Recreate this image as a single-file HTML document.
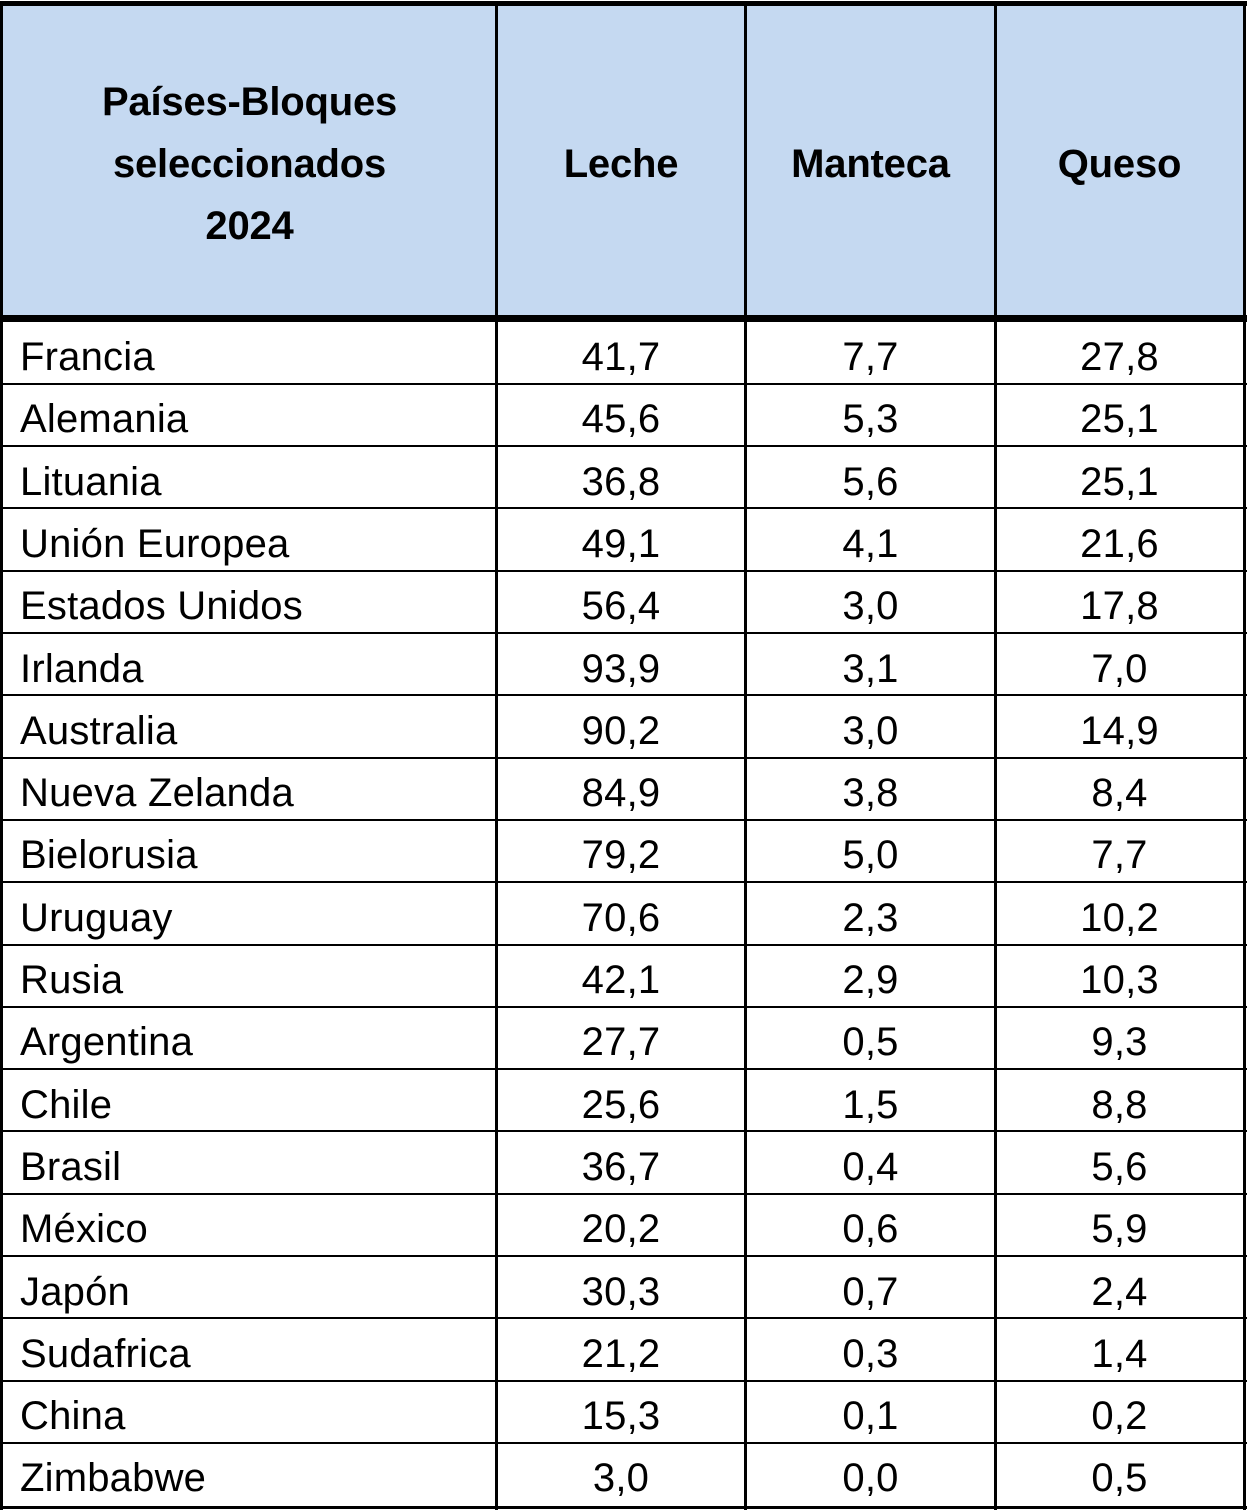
<!DOCTYPE html>
<html><head><meta charset="utf-8"><style>
body{margin:0;width:1247px;height:1509px;background:#fff;position:relative;overflow:hidden;font-family:"Liberation Sans",Carlito,sans-serif;}
.h{position:absolute;background:#000;}
.hdr{position:absolute;top:5px;height:311px;background:#C5D9F1;}
.t{position:absolute;font-size:40px;color:#000;line-height:62px;height:62px;white-space:nowrap;letter-spacing:0.2px}
.c{text-align:center}
.hd{position:absolute;font-weight:bold;font-size:40px;text-align:center;line-height:62px;letter-spacing:-0.2px}
</style></head><body>
<div class="hdr" style="left:3px;width:1241px"></div>
<div class="hd" style="left:3px;width:493px;top:71px">Países-Bloques<br>seleccionados<br>2024</div>
<div class="hd" style="left:497px;width:248px;top:133px">Leche</div>
<div class="hd" style="left:747px;width:247px;top:133px">Manteca</div>
<div class="hd" style="left:996px;width:247px;top:133px">Queso</div>
<div class="h" style="left:0;top:1px;width:1247px;height:5px"></div>
<div class="h" style="left:0;top:315px;width:1247px;height:7px"></div>
<div class="h" style="left:0;width:3px;height:1509px;top:1px"></div>
<div class="h" style="left:1243px;top:1px;width:3px;height:1509px"></div>
<div class="h" style="left:495px;top:1px;width:3px;height:1509px"></div>
<div class="h" style="left:744px;top:1px;width:3px;height:1509px"></div>
<div class="h" style="left:994px;top:1px;width:3px;height:1509px"></div>
<div id="rows"></div>
<script>
(function(){
var d=[["Francia","41,7","7,7","27,8"],["Alemania","45,6","5,3","25,1"],["Lituania","36,8","5,6","25,1"],["Unión Europea","49,1","4,1","21,6"],["Estados Unidos","56,4","3,0","17,8"],["Irlanda","93,9","3,1","7,0"],["Australia","90,2","3,0","14,9"],["Nueva Zelanda","84,9","3,8","8,4"],["Bielorusia","79,2","5,0","7,7"],["Uruguay","70,6","2,3","10,2"],["Rusia","42,1","2,9","10,3"],["Argentina","27,7","0,5","9,3"],["Chile","25,6","1,5","8,8"],["Brasil","36,7","0,4","5,6"],["México","20,2","0,6","5,9"],["Japón","30,3","0,7","2,4"],["Sudafrica","21,2","0,3","1,4"],["China","15,3","0,1","0,2"],["Zimbabwe","3,0","0,0","0,5"]];
var h="";
for(var i=0;i<d.length;i++){var y0=322+i*62.3;
if(i>0)h+='<div class="h" style="left:0;width:1247px;height:2px;top:'+(y0-1.5)+'px"></div>';
var ty=y0+4;
h+='<div class="t" style="left:20px;top:'+ty+'px">'+d[i][0]+'</div>';
h+='<div class="t c" style="left:497px;width:248px;top:'+ty+'px">'+d[i][1]+'</div>';
h+='<div class="t c" style="left:747px;width:247px;top:'+ty+'px">'+d[i][2]+'</div>';
h+='<div class="t c" style="left:996px;width:247px;top:'+ty+'px">'+d[i][3]+'</div>';}
h+='<div class="h" style="left:0;width:1247px;height:3px;top:1506px"></div>';
document.getElementById("rows").innerHTML=h;
})();
</script>
</body></html>
